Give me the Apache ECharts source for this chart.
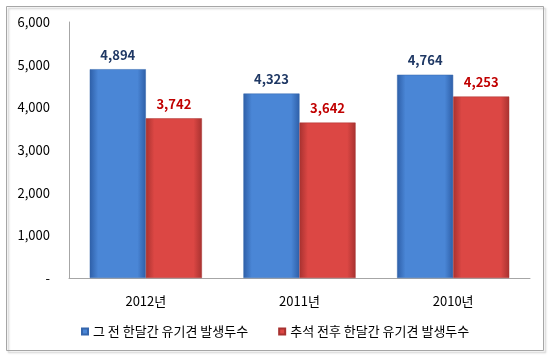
<!DOCTYPE html>
<html><head><meta charset="utf-8">
<script src="https://cdn.jsdelivr.net/npm/echarts@6/dist/echarts.min.js"></script>
<style>html,body{margin:0;padding:0;background:#fff}#c{width:550px;height:359px}</style>
</head><body><div id="c"></div>
<script>
const categories = ['2012년', '2011년', '2010년'];
const seriesNames = ['그 전 한달간 유기견 발생두수', '추석 전후 한달간 유기견 발생두수'];
const beforeValues = [4894, 4323, 4764];
const afterValues = [3742, 3642, 4253];
const yTicks = [0, 1000, 2000, 3000, 4000, 5000, 6000];

const font = '"Noto Sans CJK KR", "Noto Sans", sans-serif';
function grad(light, dark) {
  return new echarts.graphic.LinearGradient(0, 0, 1, 0, [
    {offset: 0, color: dark}, {offset: 0.15, color: light}, {offset: 0.85, color: light}, {offset: 1, color: dark}
  ]);
}
const chart = echarts.init(document.getElementById('c'));
chart.setOption({
  animation: false,
  graphic: [{type: 'rect', shape: {x: 6.5, y: 6.5, width: 537, height: 344},
    style: {fill: 'none', stroke: '#a6a6a6', lineWidth: 1, shadowColor: 'rgba(0,0,0,0.25)', shadowOffsetX: 2, shadowOffsetY: 2, shadowBlur: 2}}],
  grid: {left: 69, right: 20, top: 22, bottom: 81},
  legend: {
    bottom: 16, left: 76, itemWidth: 6, itemHeight: 6, itemGap: 30,
    textStyle: {fontFamily: font, fontSize: 13, color: '#000'},
    data: seriesNames.map(n => ({name: n, icon: 'rect'}))
  },
  xAxis: {
    type: 'category', data: categories,
    axisLine: {lineStyle: {color: '#a6a6a6'}}, axisTick: {show: false},
    axisLabel: {fontFamily: font, fontSize: 13, color: '#000', margin: 17}
  },
  yAxis: {
    type: 'value', min: 0, max: 6000, interval: 1000,
    axisLine: {show: true, lineStyle: {color: '#a6a6a6'}}, axisTick: {show: false},
    splitLine: {show: false},
    axisLabel: {fontFamily: font, fontSize: 13, color: '#000', margin: 19,
      formatter: v => yTicks.includes(v) ? (v === 0 ? '-' : v.toLocaleString('en-US')) : ''}
  },
  series: [
    {name: seriesNames[0], type: 'bar', data: beforeValues, barGap: '0%', barCategoryGap: '27%',
      itemStyle: {color: grad('#4a86d6', '#2e5fa8'), borderColor: '#3566ad', borderWidth: 0.5},
      label: {show: true, position: 'top', distance: 8, fontFamily: font, fontSize: 13, fontWeight: 'bold', color: '#1f3864',
        formatter: p => p.value.toLocaleString('en-US')}},
    {name: seriesNames[1], type: 'bar', data: afterValues,
      itemStyle: {color: grad('#dc4744', '#a83230'), borderColor: '#a83230', borderWidth: 0.5},
      label: {show: true, position: 'top', distance: 8, fontFamily: font, fontSize: 13, fontWeight: 'bold', color: '#c00000',
        formatter: p => p.value.toLocaleString('en-US')}}
  ]
});
</script></body></html>
